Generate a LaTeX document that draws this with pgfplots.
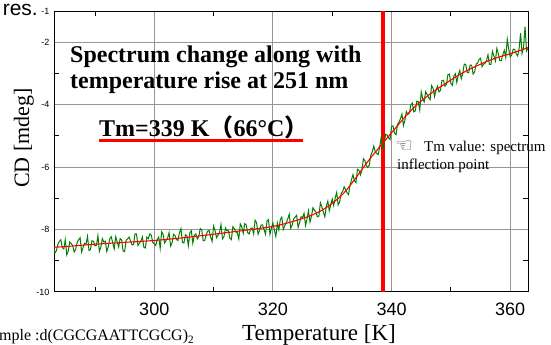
\documentclass[border=0pt]{standalone}
\usepackage{fontspec}
\setmainfont{Liberation Serif}
\newfontfamily\arialf{Liberation Sans}
\newfontfamily\dejavu{DejaVu Sans}
\newfontfamily\cjk{Noto Sans CJK JP}
\usepackage{pgfplots}
\pgfplotsset{compat=1.18}
\definecolor{cdgreen}{RGB}{0,128,0}
\definecolor{gridgray}{RGB}{150,150,150}
\begin{document}
\begin{tikzpicture}[x=1pt,y=1pt]
\useasboundingbox (0,0) rectangle (551,345);
\begin{axis}[
  at={(54pt,53pt)}, anchor=south west,
  scale only axis, width=474pt, height=281pt,
  xmin=283.1, xmax=363.0, ymin=-10, ymax=-1,
  xtick={300,320,340,360},
  minor xtick={290,310,330,350},
  ytick={-10,-8,-6,-4,-2,-1},
  minor ytick={-9,-7,-5,-3},
  major tick length=0pt,
  minor tick length=5pt,
  tick align=inside,
  tick style={black, line width=0.8pt},
  xmajorgrids, ymajorgrids,
  major grid style={gridgray, line width=1pt},
  axis line style={black, line width=1pt},
  /pgf/number format/assume math mode=true,
  xticklabel style={font=\arialf\fontsize{18}{20}\selectfont, yshift=-7pt},
  yticklabel style={font=\arialf\fontsize{9}{10}\selectfont, xshift=-1pt},
  clip=true,
]
\addplot[red, line width=4pt] coordinates {(338.5,-10) (338.5,-1)};
\addplot[cdgreen, line width=1pt] coordinates {
(283.00,-8.52) (283.25,-8.75) (283.50,-8.68) (283.75,-8.47)
(284.00,-8.38) (284.25,-8.33) (284.50,-8.58) (284.75,-8.62)
(285.00,-8.33) (285.25,-8.81) (285.50,-8.69) (285.75,-8.40)
(286.00,-8.45) (286.25,-8.51) (286.50,-8.72) (286.75,-8.64)
(287.00,-8.42) (287.25,-8.33) (287.50,-8.26) (287.75,-8.72)
(288.00,-8.58) (288.25,-8.44) (288.50,-8.47) (288.75,-8.22)
(289.00,-8.67) (289.25,-8.64) (289.50,-8.36) (289.75,-8.37)
(290.00,-8.52) (290.25,-8.51) (290.50,-8.19) (290.75,-8.70)
(291.00,-8.56) (291.25,-8.29) (291.50,-8.40) (291.75,-8.37)
(292.00,-8.70) (292.25,-8.55) (292.50,-8.29) (292.75,-8.23)
(293.00,-8.43) (293.25,-8.62) (293.50,-8.23) (293.75,-8.39)
(294.00,-8.56) (294.25,-8.29) (294.50,-8.33) (294.75,-8.69)
(295.00,-8.71) (295.25,-8.34) (295.50,-8.30) (295.75,-8.24)
(296.00,-8.36) (296.25,-8.49) (296.50,-8.48) (296.75,-8.14)
(297.00,-8.14) (297.25,-8.51) (297.50,-8.44) (297.75,-8.37)
(298.00,-8.24) (298.25,-8.57) (298.50,-8.59) (298.75,-8.24)
(299.00,-8.29) (299.25,-8.14) (299.50,-8.18) (299.75,-8.41)
(300.00,-8.46) (300.25,-8.51) (300.50,-8.32) (300.75,-8.24)
(301.00,-8.60) (301.25,-8.07) (301.50,-8.16) (301.75,-8.43)
(302.00,-8.35) (302.25,-8.27) (302.50,-8.10) (302.75,-8.53)
(303.00,-8.43) (303.25,-8.15) (303.50,-8.19) (303.75,-8.32)
(304.00,-8.35) (304.25,-8.10) (304.50,-7.97) (304.75,-8.41)
(305.00,-8.43) (305.25,-8.17) (305.50,-8.20) (305.75,-8.52)
(306.00,-8.10) (306.25,-8.04) (306.50,-8.44) (306.75,-8.18)
(307.00,-8.14) (307.25,-8.30) (307.50,-8.23) (307.75,-7.97)
(308.00,-8.01) (308.25,-8.36) (308.50,-8.35) (308.75,-8.17)
(309.00,-8.05) (309.25,-8.03) (309.50,-8.24) (309.75,-8.38)
(310.00,-7.89) (310.25,-8.03) (310.50,-8.26) (310.75,-8.18)
(311.00,-8.09) (311.25,-7.84) (311.50,-8.30) (311.75,-8.23)
(312.00,-7.95) (312.25,-8.04) (312.50,-8.03) (312.75,-8.28)
(313.00,-8.32) (313.25,-7.91) (313.50,-7.97) (313.75,-8.08)
(314.00,-8.10) (314.25,-8.30) (314.50,-7.82) (314.75,-7.91)
(315.00,-8.12) (315.25,-7.81) (315.50,-7.85) (315.75,-8.10)
(316.00,-8.14) (316.25,-7.97) (316.50,-7.95) (316.75,-8.14)
(317.00,-7.70) (317.25,-7.78) (317.50,-8.15) (317.75,-8.03)
(318.00,-7.86) (318.25,-7.85) (318.50,-8.00) (318.75,-8.15)
(319.00,-7.73) (319.25,-7.68) (319.50,-8.15) (319.75,-7.95)
(320.00,-7.79) (320.25,-8.02) (320.50,-8.22) (320.75,-7.79)
(321.00,-8.01) (321.25,-7.68) (321.50,-7.60) (321.75,-8.00)
(322.00,-7.88) (322.25,-7.78) (322.50,-7.66) (322.75,-7.51)
(323.00,-7.96) (323.25,-7.85) (323.50,-7.66) (323.75,-7.60)
(324.00,-7.54) (324.25,-7.93) (324.50,-7.77) (324.75,-7.59)
(325.00,-7.61) (325.25,-7.48) (325.50,-7.87) (325.75,-7.66)
(326.00,-7.40) (326.25,-7.76) (326.50,-7.57) (326.75,-7.30)
(327.00,-7.38) (327.25,-7.44) (327.50,-7.59) (327.75,-7.57)
(328.00,-7.14) (328.25,-7.27) (328.50,-7.44) (328.75,-7.59)
(329.00,-7.25) (329.25,-7.09) (329.50,-7.40) (329.75,-7.20)
(330.00,-7.02) (330.25,-7.23) (330.50,-6.99) (330.75,-6.81)
(331.00,-7.21) (331.25,-7.12) (331.50,-6.85) (331.75,-6.78)
(332.00,-6.63) (332.25,-6.72) (332.50,-6.82) (332.75,-6.88)
(333.00,-6.58) (333.25,-6.40) (333.50,-6.24) (333.75,-6.44)
(334.00,-6.50) (334.25,-6.07) (334.50,-6.10) (334.75,-6.25)
(335.00,-6.10) (335.25,-5.73) (335.50,-5.79) (335.75,-5.96)
(336.00,-6.01) (336.25,-5.93) (336.50,-5.62) (336.75,-5.51)
(337.00,-5.33) (337.25,-5.51) (337.50,-5.56) (337.75,-5.60)
(338.00,-5.35) (338.25,-5.04) (338.50,-5.38) (338.75,-5.23)
(339.00,-4.95) (339.25,-4.97) (339.50,-5.07) (339.75,-5.11)
(340.00,-4.69) (340.25,-4.68) (340.50,-4.91) (340.75,-4.96)
(341.00,-4.63) (341.25,-4.56) (341.50,-4.45) (341.75,-4.30)
(342.00,-4.67) (342.25,-4.49) (342.50,-4.22) (342.75,-4.31)
(343.00,-4.27) (343.25,-4.01) (343.50,-3.95) (343.75,-4.23)
(344.00,-4.20) (344.25,-3.89) (344.50,-3.90) (344.75,-4.17)
(345.00,-3.59) (345.25,-3.81) (345.50,-3.91) (345.75,-3.58)
(346.00,-3.68) (346.25,-3.77) (346.50,-3.84) (346.75,-3.39)
(347.00,-3.47) (347.25,-3.74) (347.50,-3.52) (347.75,-3.41)
(348.00,-3.59) (348.25,-3.54) (348.50,-3.22) (348.75,-3.22)
(349.00,-3.41) (349.25,-3.35) (349.50,-3.04) (349.75,-3.02)
(350.00,-3.32) (350.25,-3.38) (350.50,-3.09) (350.75,-3.01)
(351.00,-3.29) (351.25,-3.04) (351.50,-2.90) (351.75,-3.17)
(352.00,-3.00) (352.25,-2.70) (352.50,-2.71) (352.75,-2.97)
(353.00,-2.97) (353.25,-2.73) (353.50,-2.74) (353.75,-3.02)
(354.00,-2.95) (354.25,-2.70) (354.50,-2.67) (354.75,-2.55)
(355.00,-2.51) (355.25,-2.78) (355.50,-2.71) (355.75,-2.67)
(356.00,-2.59) (356.25,-2.40) (356.50,-2.71) (356.75,-2.71)
(357.00,-2.29) (357.25,-2.44) (357.50,-2.60) (357.75,-2.20)
(358.00,-2.37) (358.25,-2.59) (358.50,-2.59) (358.75,-2.40)
(359.00,-2.26) (359.25,-2.49) (359.50,-1.90) (359.75,-2.22)
(360.00,-2.47) (360.25,-2.41) (360.50,-2.22) (360.75,-2.23)
(361.00,-2.37) (361.25,-2.44) (361.50,-2.20) (361.75,-1.71)
(362.00,-2.36) (362.25,-2.16) (362.50,-1.50) (362.75,-2.28)
(363.00,-2.19)
};
\addplot[red, line width=1.1pt, smooth] coordinates {
(283,-8.57) (286,-8.53) (290,-8.47) (295,-8.41) (300,-8.35) (305,-8.26)
(310,-8.15) (315,-8.03) (320,-7.90) (323,-7.76) (326,-7.58) (328,-7.41)
(330,-7.16) (332,-6.82) (334,-6.34) (336,-5.82) (338,-5.35) (340,-4.90)
(342,-4.45) (344,-4.05) (346,-3.73) (348,-3.46) (350,-3.21) (352,-2.98)
(354,-2.79) (356,-2.62) (358,-2.48) (360,-2.37) (362,-2.24) (363,-2.17)
};
\end{axis}
% surrounding text
\node[anchor=base east, font=\arialf\fontsize{21}{24}\selectfont, inner sep=0pt] at (38,329) {res.};
\node[anchor=base west, font=\fontsize{16}{18}\selectfont, inner sep=0pt] at (-1,4) {mple :d(CGCGAATTCGCG)\textsubscript{2}};
% axis labels
\node[anchor=base, font=\fontsize{23}{26}\selectfont, inner sep=0pt] at (319,5) {Temperature [K]};
\node[anchor=base, rotate=90, font=\fontsize{22}{25}\selectfont, inner sep=0pt] at (29,207) {CD [mdeg]};
% title texts
\node[anchor=base west, font=\bfseries\fontsize{24}{27}\selectfont, inner sep=0pt] at (70,282) {Spectrum change along with};
\node[anchor=base west, font=\bfseries\fontsize{24}{27}\selectfont, inner sep=0pt] at (70,256) {temperature rise at 251 nm};
\node[anchor=base west, font=\bfseries\fontsize{24}{27}\selectfont, inner sep=0pt] at (99,208) {Tm=339 K{\cjk （}66°C{\cjk ）}};
\draw[red, line width=3pt] (99,204) -- (303,204);
% annotation
\node[anchor=base west, font=\dejavu\fontsize{20}{22}\selectfont, inner sep=0pt, gray!60!black] at (395,192) {☜};
\node[anchor=base west, font=\fontsize{15}{17}\selectfont, inner sep=0pt] at (424,193) {Tm value: spectrum};
\node[anchor=base west, font=\fontsize{15}{17}\selectfont, inner sep=0pt] at (397,175) {inflection point};
\end{tikzpicture}
\end{document}
